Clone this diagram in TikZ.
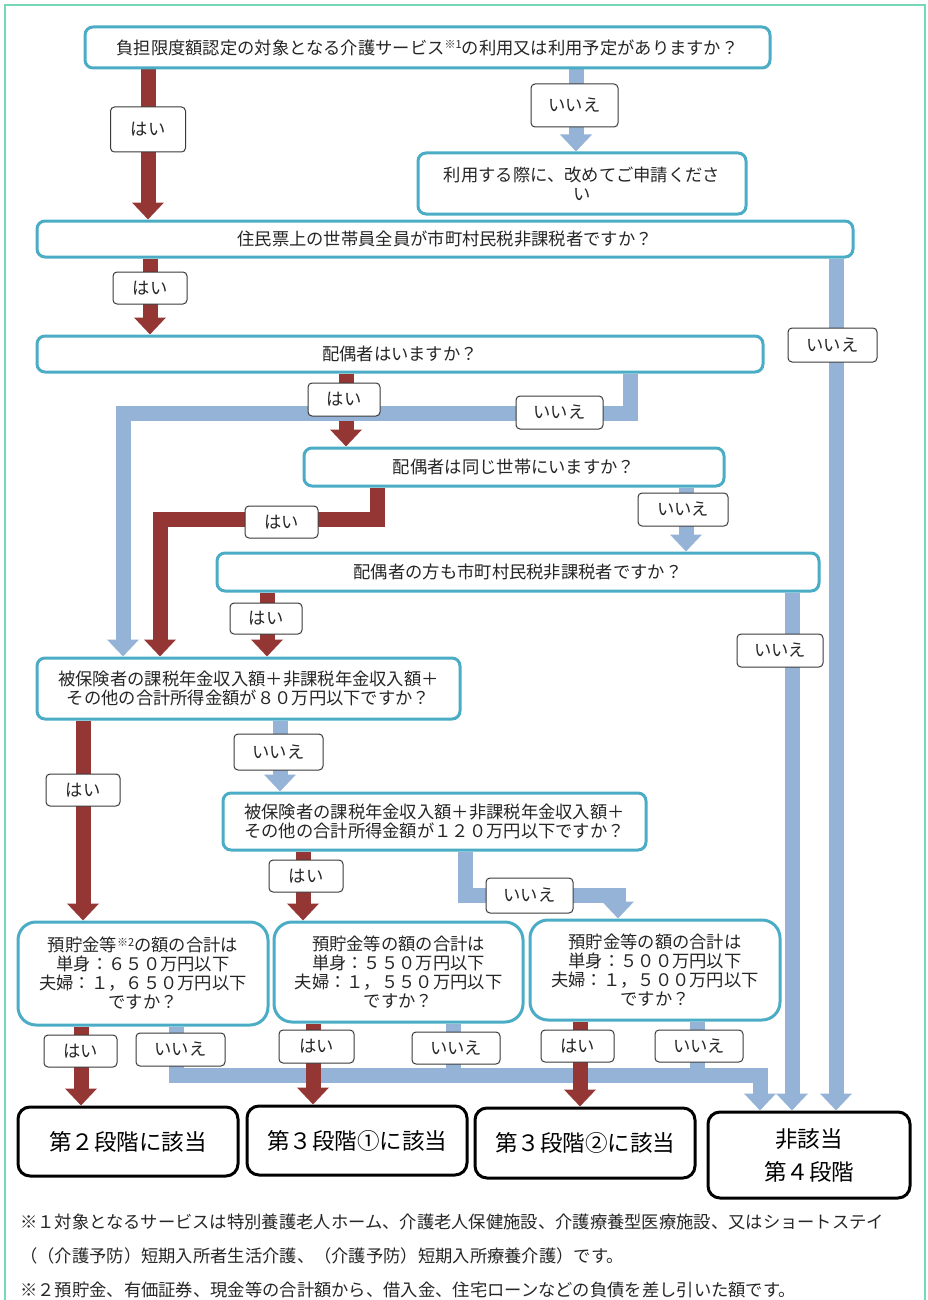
\documentclass[tikz,border=0pt]{standalone}
\usepackage{fontspec}
\newfontfamily\jp{Noto Sans CJK JP}
\usetikzlibrary{arrows.meta}
\pgfdeclarelayer{bg}
\pgfsetlayers{bg,main}
\definecolor{boxc}{HTML}{4BACC6}
\definecolor{redc}{HTML}{943634}
\definecolor{bluec}{HTML}{95B3D7}
\definecolor{lblc}{HTML}{3A3A3A}
\definecolor{framec}{HTML}{76D7B9}
\definecolor{txtc}{HTML}{262626}
\newcommand{\supmark}[1]{\raisebox{0.6ex}{\fontsize{11}{11}\selectfont #1}}
\begin{document}
\begin{tikzpicture}[x=1pt,y=-1pt,
  txt/.style={font=\jp\fontsize{17.3}{19}\selectfont, text=txtc},
  qbox/.style={txt, draw=boxc, line width=3pt, fill=white, rounded corners=8pt, align=center, inner sep=0pt},
  sbox/.style={qbox, rounded corners=18pt},
  rbox/.style={draw=black, line width=3pt, fill=white, rounded corners=12pt, align=center, inner sep=0pt, font=\jp\fontsize{22.5}{33}\selectfont, text=black},
  lbl/.style={txt, draw=lblc, line width=1pt, fill=white, rounded corners=4pt, inner sep=0pt},
  yesarr/.style={draw=redc, line width=15pt, -{Triangle[width=31pt,length=17pt]}},
  noarr/.style={draw=bluec, line width=15pt, -{Triangle[width=31pt,length=17pt]}},
  noline/.style={draw=bluec, line width=15pt},
  note/.style={txt, anchor=west, inner sep=0pt}]
\useasboundingbox (0,0) rectangle (928,1300);
\draw[framec, line width=2pt] (5,1320) -- (5,5) -- (925,5) -- (925,1320);

% question boxes
\node[qbox, minimum width=685pt, minimum height=41pt] (q1) at (427.5,47.5)
  {負担限度額認定の対象となる介護サービス\supmark{※1}の利用又は利用予定がありますか？};
\node[qbox, minimum width=328pt, minimum height=61pt] (n1) at (582,183.5)
  {利用する際に、改めてご申請くださ\\い};
\node[qbox, minimum width=816pt, minimum height=36pt] (q2) at (445,239)
  {住民票上の世帯員全員が市町村民税非課税者ですか？};
\node[qbox, minimum width=726pt, minimum height=36pt] (q3) at (400,354)
  {配偶者はいますか？};
\node[qbox, minimum width=420pt, minimum height=38pt] (q4) at (514,467)
  {配偶者は同じ世帯にいますか？};
\node[qbox, minimum width=602pt, minimum height=38pt] (q5) at (518,572)
  {配偶者の方も市町村民税非課税者ですか？};
\node[qbox, minimum width=423pt, minimum height=61pt] (q6) at (248.5,688.5)
  {被保険者の課税年金収入額＋非課税年金収入額＋\\その他の合計所得金額が８０万円以下ですか？};
\node[qbox, minimum width=423pt, minimum height=57pt] (q7) at (434.5,821.5)
  {被保険者の課税年金収入額＋非課税年金収入額＋\\その他の合計所得金額が１２０万円以下ですか？};
\node[sbox, minimum width=250pt, minimum height=103pt] (q8a) at (143,973.5)
  {預貯金等\supmark{※2}の額の合計は\\単身：６５０万円以下\\夫婦：１，６５０万円以下\\ですか？};
\node[sbox, minimum width=249pt, minimum height=100pt] (q8b) at (398.5,972)
  {預貯金等の額の合計は\\単身：５５０万円以下\\夫婦：１，５５０万円以下\\ですか？};
\node[sbox, minimum width=250pt, minimum height=100pt] (q8c) at (655,970)
  {預貯金等の額の合計は\\単身：５００万円以下\\夫婦：１，５００万円以下\\ですか？};

% result boxes
\node[rbox, minimum width=220pt, minimum height=69pt] (r1) at (128,1141.5) {第２段階に該当};
\node[rbox, minimum width=220pt, minimum height=69pt] (r2) at (357,1140.5) {第３段階①に該当};
\node[rbox, minimum width=220pt, minimum height=70pt] (r3) at (585,1143) {第３段階②に該当};
\node[rbox, minimum width=202pt, minimum height=86pt] (r4) at (809,1155) {非該当\\第４段階};

% column / bend coordinates
\coordinate (x148) at (148,0);
\coordinate (x576) at (576,0);
\coordinate (x150) at (150,0);
\coordinate (x836) at (836,0);
\coordinate (x346) at (346,0);
\coordinate (x686) at (686,0);
\coordinate (x267) at (267,0);
\coordinate (x792) at (792,0);
\coordinate (x83) at (83,0);
\coordinate (x280) at (280,0);
\coordinate (x303) at (303,0);
\coordinate (x81) at (81,0);
\coordinate (x313) at (313,0);
\coordinate (x580) at (580,0);
\coordinate (t6a) at (630,413);
\coordinate (t6b) at (123,413);
\coordinate (t7a) at (377,519);
\coordinate (t7b) at (160,519);
\coordinate (t14a) at (465,895);
\coordinate (t14b) at (618,895);
\coordinate (t16a) at (176,1075);
\coordinate (t16b) at (760,1075);
\coordinate (t17) at (453,1075);
\coordinate (t20) at (697,1075);

\begin{pgfonlayer}{bg}
\draw[yesarr] (q1.south -| x148) -- (q2.north -| x148);
\draw[noarr] (q1.south -| x576) -- (n1.north -| x576);
\draw[yesarr] (q2.south -| x150) -- (q3.north -| x150);
\draw[noarr] (q2.south -| x836) -- (r4.north -| x836);
\draw[yesarr] (q3.south -| x346) -- (q4.north -| x346);
\draw[noarr] (q3.south -| t6a) -- (t6a) -- (t6b) -- (q6.north -| t6b);
\draw[yesarr] (q4.south -| t7a) -- (t7a) -- (t7b) -- (q6.north -| t7b);
\draw[noarr] (q4.south -| x686) -- (q5.north -| x686);
\draw[yesarr] (q5.south -| x267) -- (q6.north -| x267);
\draw[noarr] (q5.south -| x792) -- (r4.north -| x792);
\draw[yesarr] (q6.south -| x83) -- (q8a.north -| x83);
\draw[noarr] (q6.south -| x280) -- (q7.north -| x280);
\draw[yesarr] (q7.south -| x303) -- (q8b.north -| x303);
\draw[noarr] (q7.south -| t14a) -- (t14a) -- (t14b) -- (q8c.north -| t14b);
\draw[yesarr] (q8a.south -| x81) -- (r1.north -| x81);
\draw[noarr] (q8a.south -| t16a) -- (t16a) -- (t16b) -- (r4.north -| t16b);
\draw[noline] (q8b.south -| t17) -- (t17);
\draw[yesarr] (q8b.south -| x313) -- (r2.north -| x313);
\draw[yesarr] (q8c.south -| x580) -- (r3.north -| x580);
\draw[noline] (q8c.south -| t20) -- (t20);
\end{pgfonlayer}

% labels
\node[lbl, minimum width=75pt, minimum height=45pt] (l1) at (148,129.5) {はい};
\node[lbl, minimum width=87pt, minimum height=43pt] (l2) at (574.5,105.5) {いいえ};
\node[lbl, minimum width=74pt, minimum height=32pt] (l3) at (150,288) {はい};
\node[lbl, minimum width=89pt, minimum height=34pt] (l4) at (832.5,345) {いいえ};
\node[lbl, minimum width=72pt, minimum height=33pt] (l5) at (344,399.5) {はい};
\node[lbl, minimum width=87pt, minimum height=33pt] (l6) at (559.5,412.5) {いいえ};
\node[lbl, minimum width=73pt, minimum height=32pt] (l7) at (281.5,522) {はい};
\node[lbl, minimum width=90pt, minimum height=33pt] (l8) at (683,509.5) {いいえ};
\node[lbl, minimum width=72pt, minimum height=31pt] (l9) at (266,618.5) {はい};
\node[lbl, minimum width=86pt, minimum height=33pt] (l10) at (780,650.5) {いいえ};
\node[lbl, minimum width=74pt, minimum height=32pt] (l11) at (83,790) {はい};
\node[lbl, minimum width=89pt, minimum height=36pt] (l12) at (278.5,752) {いいえ};
\node[lbl, minimum width=74pt, minimum height=32pt] (l13) at (306,876) {はい};
\node[lbl, minimum width=87pt, minimum height=35pt] (l14) at (529.5,895.5) {いいえ};
\node[lbl, minimum width=73pt, minimum height=32pt] (l15) at (80.5,1051) {はい};
\node[lbl, minimum width=89pt, minimum height=33pt] (l16) at (180.5,1049.5) {いいえ};
\node[lbl, minimum width=88pt, minimum height=32pt] (l17) at (456,1048) {いいえ};
\node[lbl, minimum width=75pt, minimum height=33pt] (l18) at (316.5,1046.5) {はい};
\node[lbl, minimum width=73pt, minimum height=32pt] (l19) at (577.5,1046) {はい};
\node[lbl, minimum width=88pt, minimum height=32pt] (l20) at (699,1046) {いいえ};

% footnotes
\node[note] (f1) at (20,1222) {※１対象となるサービスは特別養護老人ホーム、介護老人保健施設、介護療養型医療施設、又はショートステイ};
\node[note] (f2) at (20,1256) {（（介護予防）短期入所者生活介護、（介護予防）短期入所療養介護）です。};
\node[note] (f3) at (20,1290) {※２預貯金、有価証券、現金等の合計額から、借入金、住宅ローンなどの負債を差し引いた額です。};
\end{tikzpicture}
\end{document}
